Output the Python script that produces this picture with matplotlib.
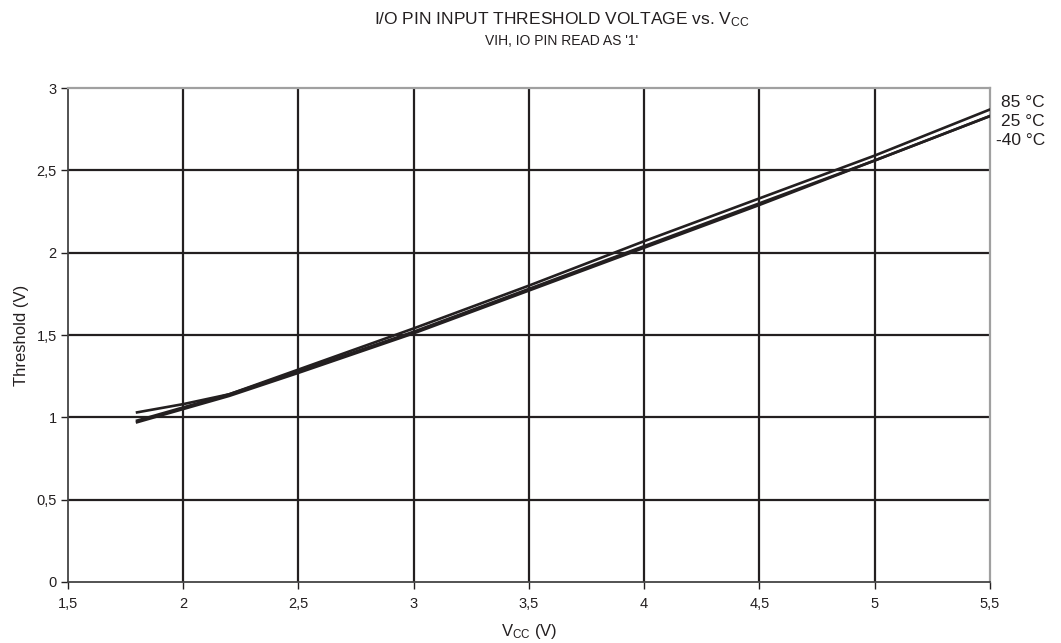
import matplotlib
matplotlib.use("Agg")
import matplotlib.pyplot as plt

plt.rcParams["font.family"] = ["Liberation Sans", "DejaVu Sans"]
plt.rcParams["mathtext.fontset"] = "custom"
plt.rcParams["mathtext.rm"] = "Liberation Sans"
plt.rcParams["mathtext.it"] = "Liberation Sans"

# Data
vcc = [1.8, 2.0, 2.2, 2.5, 3.0, 3.5, 4.0, 4.5, 5.0, 5.5]
th_85 = [1.03, 1.08, 1.14, 1.29, 1.54, 1.80, 2.07, 2.33, 2.59, 2.87]
th_25 = [0.98, 1.06, 1.14, 1.28, 1.52, 1.78, 2.04, 2.30, 2.56, 2.83]
th_m40 = [0.97, 1.05, 1.13, 1.27, 1.51, 1.77, 2.03, 2.29, 2.56, 2.83]
temp_labels = ["85 °C", "25 °C", "-40 °C"]

x_ticks = [1.5, 2, 2.5, 3, 3.5, 4, 4.5, 5, 5.5]
x_tick_labels = ["1,5", "2", "2,5", "3", "3,5", "4", "4,5", "5", "5,5"]
y_ticks = [0, 0.5, 1, 1.5, 2, 2.5, 3]
y_tick_labels = ["0", "0,5", "1", "1,5", "2", "2,5", "3"]

txt = "#231f20"

fig = plt.figure(figsize=(10.61, 6.43), dpi=100)
ax = fig.add_axes([0.064, 0.095, 0.869, 0.768])

for xv in x_ticks[1:-1]:
    ax.axvline(xv, color=txt, lw=1.6, zorder=1)
for yv in y_ticks[1:-1]:
    ax.axhline(yv, color=txt, lw=1.6, zorder=1)

for series in (th_85, th_25, th_m40):
    ax.plot(vcc, series, color=txt, lw=1.9, zorder=3)

ax.set_xlim(1.5, 5.5)
ax.set_ylim(0, 3)
ax.set_xticks(x_ticks)
ax.set_xticklabels(x_tick_labels)
ax.set_yticks(y_ticks)
ax.set_yticklabels(y_tick_labels)
ax.tick_params(labelsize=10.5, colors=txt, length=5, width=1)
ax.tick_params(axis="x", pad=6)
ax.tick_params(axis="y", pad=3)

for side in ("left", "bottom"):
    ax.spines[side].set_color("#444444")
    ax.spines[side].set_linewidth(1.3)
for side in ("top", "right"):
    ax.spines[side].set_color("#a0a0a0")
    ax.spines[side].set_linewidth(1.6)

ax.set_xlabel("V$_{\\rm CC}$ (V)", fontsize=12, color=txt)
ax.set_ylabel("Threshold (V)", fontsize=12, color=txt)
ax.xaxis.label.set_va("center")
ax.yaxis.label.set_va("center")
ax.xaxis.set_label_coords(0.5, -0.101)
ax.yaxis.set_label_coords(-0.050, 0.5)

fig.text(0.529, 0.969, "I/O PIN INPUT THRESHOLD VOLTAGE vs. V$_{\\rm CC}$",
         ha="center", va="center", fontsize=12.5, color=txt)
fig.text(0.529, 0.936, "VIH, IO PIN READ AS '1'",
         ha="center", va="center", fontsize=10, color=txt)

for i, lab in enumerate(temp_labels):
    ax.text(1.0597, 0.970 - i * 0.0385, lab, transform=ax.transAxes,
            ha="right", va="center", fontsize=12.5, color=txt)

fig.savefig("out.png", dpi=100)
